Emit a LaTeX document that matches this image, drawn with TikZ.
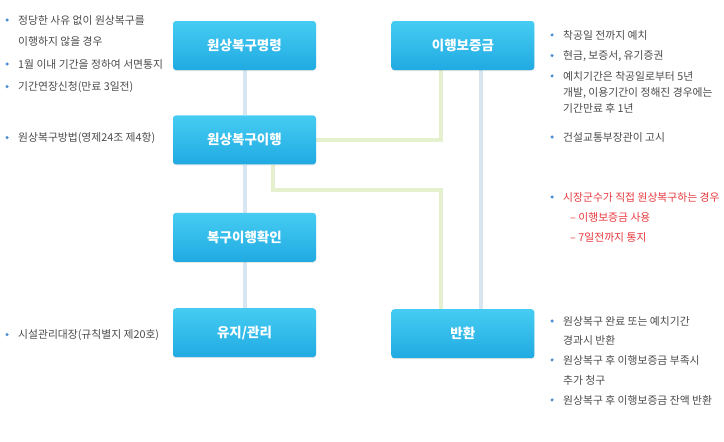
\documentclass[tikz,border=0pt]{standalone}
\usepackage{fontspec}
\newfontfamily\kr{Noto Sans CJK KR}
\usepackage{xcolor}
\usetikzlibrary{positioning,backgrounds,shadows}
\definecolor{boxtop}{HTML}{46CCF2}
\definecolor{boxbot}{HTML}{20AAE2}
\definecolor{linkblue}{HTML}{D8E6F1}
\definecolor{linkgreen}{HTML}{E5F0CE}
\definecolor{notegray}{HTML}{4A4A4A}
\definecolor{notered}{HTML}{E8383D}
\definecolor{dotblue}{HTML}{4D8FD1}

\begin{document}
\begin{tikzpicture}[
  x=1pt, y=-1pt,
  stepbox/.style={rounded corners=3pt, minimum width=143pt, minimum height=49pt,
                  top color=boxtop, bottom color=boxbot, text=white,
                  font=\kr\bfseries\fontsize{13.5}{15}\selectfont,
                  drop shadow={opacity=0.18, shadow xshift=0pt, shadow yshift=-1pt}},
  note/.style={anchor=base west, inner sep=0pt, text=notegray,
               font=\kr\fontsize{10.8}{13}\selectfont},
  rednote/.style={note, text=notered},
  dot/.style={circle, fill=dotblue, inner sep=0pt, minimum size=3.4pt},
  bluelink/.style={linkblue, line width=4pt},
  greenlink/.style={linkgreen, line width=4pt},
  node distance=45pt,
]
\useasboundingbox (0,0) rectangle (724,442);

% process boxes
\node[stepbox] (order) at (244.5,45.5) {원상복구명령};
\node[stepbox, below=of order] (exec) {원상복구이행};
\node[stepbox, below=48pt of exec] (check) {복구이행확인};
\node[stepbox, below=46pt of check] (keep) {유지/관리};
\node[stepbox, right=75pt of order] (deposit) {이행보증금};
\node[stepbox, right=75pt of keep, yshift=-1pt] (refund) {반환};

% links
\begin{scope}[on background layer]
\draw[bluelink] (order) -- (exec);
\draw[bluelink] (exec) -- (check);
\draw[bluelink] (check) -- (keep);
\draw[bluelink] ([xshift=18.5pt]deposit.south) -- ([xshift=18.5pt]refund.north);
\draw[greenlink] ([xshift=-21.5pt]deposit.south) |- (exec.east);
\draw[greenlink] ([xshift=28.5pt]exec.south) -- ++(0,25) -| ([xshift=-21.5pt]refund.north);
\end{scope}

% left notes
\node[note] (w1) at (18,24) {정당한 사유 없이 원상복구를};
\node[note] (w1b) at (18,45) {이행하지 않을 경우};
\node[note] (w2) at (18,68) {1월 이내 기간을 정하여 서면통지};
\node[note] (w3) at (18,90) {기간연장신청(만료 3일전)};
\node[note] (w4) at (18,141) {원상복구방법(영제24조 제4항)};
\node[note] (w5) at (18,338) {시설관리대장(규칙별지 제20호)};
\node[dot, left=9pt of w1.west] {};
\node[dot, left=9pt of w2.west] {};
\node[dot, left=9pt of w3.west] {};
\node[dot, left=9pt of w4.west] {};
\node[dot, left=9pt of w5.west] {};

% right notes
\node[note] (d1) at (563,39) {착공일 전까지 예치};
\node[note] (d2) at (563,59) {현금, 보증서, 유기증권};
\node[note] (d3) at (563,80) {예치기간은 착공일로부터 5년};
\node[note] (d3b) at (563,96) {개발, 이용기간이 정해진 경우에는};
\node[note] (d3c) at (563,112) {기간만료 후 1년};
\node[note] (d4) at (563,141) {건설교통부장관이 고시};
\node[rednote] (m1) at (563,201) {시장군수가 직접 원상복구하는 경우};
\node[rednote] (m1b) at (570,221) {– 이행보증금 사용};
\node[rednote] (m1c) at (570,241) {– 7일전까지 통지};
\node[note] (r1) at (563,325) {원상복구 완료 또는 예치기간};
\node[note] (r1b) at (563,344) {경과시 반환};
\node[note] (r2) at (563,364) {원상복구 후 이행보증금 부족시};
\node[note] (r2b) at (563,384) {추가 청구};
\node[note] (r3) at (563,404) {원상복구 후 이행보증금 잔액 반환};
\node[dot, left=9pt of d1.west] {};
\node[dot, left=9pt of d2.west] {};
\node[dot, left=9pt of d3.west] {};
\node[dot, left=9pt of d4.west] {};
\node[dot, left=9pt of m1.west] {};
\node[dot, left=9pt of r1.west] {};
\node[dot, left=9pt of r2.west] {};
\node[dot, left=9pt of r3.west] {};
\end{tikzpicture}
\end{document}
